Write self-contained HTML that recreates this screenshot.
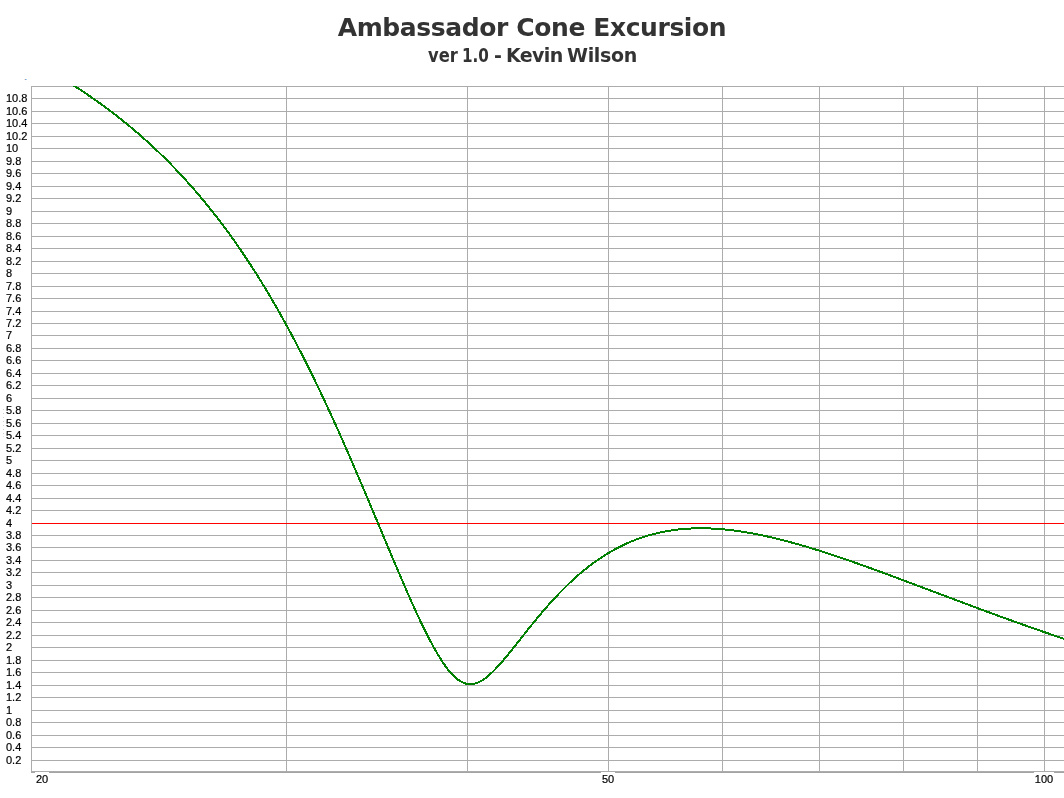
<!DOCTYPE html>
<html><head><meta charset="utf-8"><style>
html,body{margin:0;padding:0;background:#fff;}
body{width:1064px;height:798px;position:relative;overflow:hidden;}
.t1{position:absolute;left:0;width:1064px;top:13px;letter-spacing:-0.4px;text-align:center;font:bold 25px "DejaVu Sans","Liberation Sans",sans-serif;color:#333;white-space:nowrap;}
.t2{position:absolute;left:0;top:0;width:1064px;height:80px;font:bold 19px/22px "DejaVu Sans","Liberation Sans",sans-serif;color:#333;white-space:nowrap;}
.t2 span{position:absolute;top:44px;display:inline-block;}
.yl{position:absolute;left:6px;font:11px/14px "Liberation Sans",sans-serif;color:#000;white-space:nowrap;-webkit-text-stroke:0.2px #000;}
.xl{position:absolute;top:772px;height:13px;background:#fff;font:11px/14px "Liberation Sans",sans-serif;color:#000;text-align:center;-webkit-text-stroke:0.2px #000;}
</style></head><body>
<svg width="1064" height="798" viewBox="0 0 1064 798" style="position:absolute;left:0;top:0"><defs><clipPath id="pc"><rect x="31" y="86" width="1033" height="686"/></clipPath></defs><g><rect x="32" y="760" width="1032" height="1" fill="#acacac"/><rect x="32" y="747" width="1032" height="1" fill="#acacac"/><rect x="32" y="735" width="1032" height="1" fill="#acacac"/><rect x="32" y="722" width="1032" height="1" fill="#acacac"/><rect x="32" y="710" width="1032" height="1" fill="#acacac"/><rect x="32" y="697" width="1032" height="1" fill="#acacac"/><rect x="32" y="685" width="1032" height="1" fill="#acacac"/><rect x="32" y="672" width="1032" height="1" fill="#acacac"/><rect x="32" y="660" width="1032" height="1" fill="#acacac"/><rect x="32" y="647" width="1032" height="1" fill="#acacac"/><rect x="32" y="635" width="1032" height="1" fill="#acacac"/><rect x="32" y="622" width="1032" height="1" fill="#acacac"/><rect x="32" y="610" width="1032" height="1" fill="#acacac"/><rect x="32" y="597" width="1032" height="1" fill="#acacac"/><rect x="32" y="585" width="1032" height="1" fill="#acacac"/><rect x="32" y="572" width="1032" height="1" fill="#acacac"/><rect x="32" y="560" width="1032" height="1" fill="#acacac"/><rect x="32" y="547" width="1032" height="1" fill="#acacac"/><rect x="32" y="535" width="1032" height="1" fill="#acacac"/><rect x="32" y="523" width="1032" height="1" fill="#acacac"/><rect x="32" y="510" width="1032" height="1" fill="#acacac"/><rect x="32" y="498" width="1032" height="1" fill="#acacac"/><rect x="32" y="485" width="1032" height="1" fill="#acacac"/><rect x="32" y="473" width="1032" height="1" fill="#acacac"/><rect x="32" y="460" width="1032" height="1" fill="#acacac"/><rect x="32" y="448" width="1032" height="1" fill="#acacac"/><rect x="32" y="435" width="1032" height="1" fill="#acacac"/><rect x="32" y="423" width="1032" height="1" fill="#acacac"/><rect x="32" y="410" width="1032" height="1" fill="#acacac"/><rect x="32" y="398" width="1032" height="1" fill="#acacac"/><rect x="32" y="385" width="1032" height="1" fill="#acacac"/><rect x="32" y="373" width="1032" height="1" fill="#acacac"/><rect x="32" y="360" width="1032" height="1" fill="#acacac"/><rect x="32" y="348" width="1032" height="1" fill="#acacac"/><rect x="32" y="335" width="1032" height="1" fill="#acacac"/><rect x="32" y="323" width="1032" height="1" fill="#acacac"/><rect x="32" y="311" width="1032" height="1" fill="#acacac"/><rect x="32" y="298" width="1032" height="1" fill="#acacac"/><rect x="32" y="286" width="1032" height="1" fill="#acacac"/><rect x="32" y="273" width="1032" height="1" fill="#acacac"/><rect x="32" y="261" width="1032" height="1" fill="#acacac"/><rect x="32" y="248" width="1032" height="1" fill="#acacac"/><rect x="32" y="236" width="1032" height="1" fill="#acacac"/><rect x="32" y="223" width="1032" height="1" fill="#acacac"/><rect x="32" y="211" width="1032" height="1" fill="#acacac"/><rect x="32" y="198" width="1032" height="1" fill="#acacac"/><rect x="32" y="186" width="1032" height="1" fill="#acacac"/><rect x="32" y="173" width="1032" height="1" fill="#acacac"/><rect x="32" y="161" width="1032" height="1" fill="#acacac"/><rect x="32" y="148" width="1032" height="1" fill="#acacac"/><rect x="32" y="136" width="1032" height="1" fill="#acacac"/><rect x="32" y="123" width="1032" height="1" fill="#acacac"/><rect x="32" y="111" width="1032" height="1" fill="#acacac"/><rect x="32" y="98" width="1032" height="1" fill="#acacac"/><rect x="286" y="87" width="1" height="684" fill="#acacac"/><rect x="467" y="87" width="1" height="684" fill="#acacac"/><rect x="608" y="87" width="1" height="684" fill="#acacac"/><rect x="722" y="87" width="1" height="684" fill="#acacac"/><rect x="819" y="87" width="1" height="684" fill="#acacac"/><rect x="903" y="87" width="1" height="684" fill="#acacac"/><rect x="977" y="87" width="1" height="684" fill="#acacac"/><rect x="1044" y="87" width="1" height="684" fill="#acacac"/></g><rect x="31" y="86" width="1033" height="1" fill="#acacac"/><rect x="31" y="86" width="1" height="687" fill="#acacac"/><rect x="31" y="771" width="1033" height="1" fill="#acacac"/><rect x="31" y="772" width="1033" height="1" fill="#a4a4a4"/><rect x="32" y="523" width="1032" height="1" fill="#ff0000"/><polyline clip-path="url(#pc)" fill="none" stroke="#008000" stroke-width="2" shape-rendering="crispEdges" points="31.00,60.91 31.50,61.17 32.00,61.43 32.50,61.69 33.00,61.96 33.50,62.22 34.00,62.49 34.50,62.75 35.00,63.02 35.50,63.29 36.00,63.55 36.50,63.82 37.00,64.09 37.50,64.36 38.00,64.63 38.50,64.90 39.00,65.17 39.50,65.44 40.00,65.72 40.50,65.99 41.00,66.26 41.50,66.54 42.00,66.81 42.50,67.09 43.00,67.36 43.50,67.64 44.00,67.92 44.50,68.20 45.00,68.47 45.50,68.75 46.00,69.03 46.50,69.31 47.00,69.59 47.50,69.88 48.00,70.16 48.50,70.44 49.00,70.73 49.50,71.01 50.00,71.29 50.50,71.58 51.00,71.87 51.50,72.15 52.00,72.44 52.50,72.73 53.00,73.02 53.50,73.31 54.00,73.60 54.50,73.89 55.00,74.18 55.50,74.47 56.00,74.76 56.50,75.06 57.00,75.35 57.50,75.65 58.00,75.94 58.50,76.24 59.00,76.53 59.50,76.83 60.00,77.13 60.50,77.43 61.00,77.73 61.50,78.03 62.00,78.33 62.50,78.63 63.00,78.93 63.50,79.23 64.00,79.54 64.50,79.84 65.00,80.15 65.50,80.45 66.00,80.76 66.50,81.07 67.00,81.37 67.50,81.68 68.00,81.99 68.50,82.30 69.00,82.61 69.50,82.92 70.00,83.24 70.50,83.55 71.00,83.86 71.50,84.18 72.00,84.49 72.50,84.81 73.00,85.12 73.50,85.44 74.00,85.76 74.50,86.08 75.00,86.40 75.50,86.72 76.00,87.04 76.50,87.36 77.00,87.68 77.50,88.00 78.00,88.33 78.50,88.65 79.00,88.98 79.50,89.30 80.00,89.63 80.50,89.96 81.00,90.29 81.50,90.61 82.00,90.94 82.50,91.28 83.00,91.61 83.50,91.94 84.00,92.27 84.50,92.61 85.00,92.94 85.50,93.28 86.00,93.61 86.50,93.95 87.00,94.29 87.50,94.63 88.00,94.96 88.50,95.30 89.00,95.65 89.50,95.99 90.00,96.33 90.50,96.67 91.00,97.02 91.50,97.36 92.00,97.71 92.50,98.05 93.00,98.40 93.50,98.75 94.00,99.10 94.50,99.45 95.00,99.80 95.50,100.15 96.00,100.50 96.50,100.86 97.00,101.21 97.50,101.57 98.00,101.92 98.50,102.28 99.00,102.64 99.50,102.99 100.00,103.35 100.50,103.71 101.00,104.07 101.50,104.44 102.00,104.80 102.50,105.16 103.00,105.53 103.50,105.89 104.00,106.26 104.50,106.62 105.00,106.99 105.50,107.36 106.00,107.73 106.50,108.10 107.00,108.47 107.50,108.85 108.00,109.22 108.50,109.59 109.00,109.97 109.50,110.34 110.00,110.72 110.50,111.10 111.00,111.48 111.50,111.86 112.00,112.24 112.50,112.62 113.00,113.00 113.50,113.38 114.00,113.77 114.50,114.15 115.00,114.54 115.50,114.93 116.00,115.31 116.50,115.70 117.00,116.09 117.50,116.48 118.00,116.87 118.50,117.27 119.00,117.66 119.50,118.06 120.00,118.45 120.50,118.85 121.00,119.24 121.50,119.64 122.00,120.04 122.50,120.44 123.00,120.84 123.50,121.25 124.00,121.65 124.50,122.05 125.00,122.46 125.50,122.87 126.00,123.27 126.50,123.68 127.00,124.09 127.50,124.50 128.00,124.91 128.50,125.32 129.00,125.74 129.50,126.15 130.00,126.57 130.50,126.98 131.00,127.40 131.50,127.82 132.00,128.24 132.50,128.66 133.00,129.08 133.50,129.50 134.00,129.93 134.50,130.35 135.00,130.78 135.50,131.21 136.00,131.63 136.50,132.06 137.00,132.49 137.50,132.92 138.00,133.36 138.50,133.79 139.00,134.22 139.50,134.66 140.00,135.09 140.50,135.53 141.00,135.97 141.50,136.41 142.00,136.85 142.50,137.29 143.00,137.74 143.50,138.18 144.00,138.63 144.50,139.07 145.00,139.52 145.50,139.97 146.00,140.42 146.50,140.87 147.00,141.32 147.50,141.77 148.00,142.23 148.50,142.68 149.00,143.14 149.50,143.60 150.00,144.06 150.50,144.52 151.00,144.98 151.50,145.44 152.00,145.90 152.50,146.37 153.00,146.83 153.50,147.30 154.00,147.77 154.50,148.24 155.00,148.71 155.50,149.18 156.00,149.65 156.50,150.13 157.00,150.60 157.50,151.08 158.00,151.56 158.50,152.04 159.00,152.52 159.50,153.00 160.00,153.48 160.50,153.96 161.00,154.45 161.50,154.93 162.00,155.42 162.50,155.91 163.00,156.40 163.50,156.89 164.00,157.38 164.50,157.88 165.00,158.37 165.50,158.87 166.00,159.37 166.50,159.86 167.00,160.36 167.50,160.87 168.00,161.37 168.50,161.87 169.00,162.38 169.50,162.88 170.00,163.39 170.50,163.90 171.00,164.41 171.50,164.92 172.00,165.44 172.50,165.95 173.00,166.47 173.50,166.98 174.00,167.50 174.50,168.02 175.00,168.54 175.50,169.06 176.00,169.59 176.50,170.11 177.00,170.64 177.50,171.16 178.00,171.69 178.50,172.22 179.00,172.76 179.50,173.29 180.00,173.82 180.50,174.36 181.00,174.90 181.50,175.43 182.00,175.97 182.50,176.51 183.00,177.06 183.50,177.60 184.00,178.15 184.50,178.69 185.00,179.24 185.50,179.79 186.00,180.34 186.50,180.90 187.00,181.45 187.50,182.00 188.00,182.56 188.50,183.12 189.00,183.68 189.50,184.24 190.00,184.80 190.50,185.37 191.00,185.93 191.50,186.50 192.00,187.07 192.50,187.64 193.00,188.21 193.50,188.78 194.00,189.36 194.50,189.93 195.00,190.51 195.50,191.09 196.00,191.67 196.50,192.25 197.00,192.83 197.50,193.42 198.00,194.00 198.50,194.59 199.00,195.18 199.50,195.77 200.00,196.36 200.50,196.96 201.00,197.55 201.50,198.15 202.00,198.75 202.50,199.35 203.00,199.95 203.50,200.55 204.00,201.16 204.50,201.76 205.00,202.37 205.50,202.98 206.00,203.59 206.50,204.20 207.00,204.82 207.50,205.43 208.00,206.05 208.50,206.67 209.00,207.29 209.50,207.91 210.00,208.54 210.50,209.16 211.00,209.79 211.50,210.42 212.00,211.05 212.50,211.68 213.00,212.31 213.50,212.95 214.00,213.59 214.50,214.22 215.00,214.86 215.50,215.51 216.00,216.15 216.50,216.79 217.00,217.44 217.50,218.09 218.00,218.74 218.50,219.39 219.00,220.05 219.50,220.70 220.00,221.36 220.50,222.02 221.00,222.68 221.50,223.34 222.00,224.00 222.50,224.67 223.00,225.33 223.50,226.00 224.00,226.67 224.50,227.35 225.00,228.02 225.50,228.70 226.00,229.37 226.50,230.05 227.00,230.73 227.50,231.42 228.00,232.10 228.50,232.79 229.00,233.47 229.50,234.16 230.00,234.86 230.50,235.55 231.00,236.24 231.50,236.94 232.00,237.64 232.50,238.34 233.00,239.04 233.50,239.75 234.00,240.45 234.50,241.16 235.00,241.87 235.50,242.58 236.00,243.29 236.50,244.01 237.00,244.73 237.50,245.44 238.00,246.16 238.50,246.89 239.00,247.61 239.50,248.34 240.00,249.06 240.50,249.79 241.00,250.53 241.50,251.26 242.00,251.99 242.50,252.73 243.00,253.47 243.50,254.21 244.00,254.95 244.50,255.70 245.00,256.45 245.50,257.19 246.00,257.94 246.50,258.70 247.00,259.45 247.50,260.21 248.00,260.96 248.50,261.72 249.00,262.49 249.50,263.25 250.00,264.02 250.50,264.78 251.00,265.55 251.50,266.32 252.00,267.10 252.50,267.87 253.00,268.65 253.50,269.43 254.00,270.21 254.50,270.99 255.00,271.78 255.50,272.56 256.00,273.35 256.50,274.14 257.00,274.94 257.50,275.73 258.00,276.53 258.50,277.33 259.00,278.13 259.50,278.93 260.00,279.74 260.50,280.54 261.00,281.35 261.50,282.16 262.00,282.97 262.50,283.79 263.00,284.61 263.50,285.42 264.00,286.25 264.50,287.07 265.00,287.89 265.50,288.72 266.00,289.55 266.50,290.38 267.00,291.21 267.50,292.05 268.00,292.88 268.50,293.72 269.00,294.56 269.50,295.41 270.00,296.25 270.50,297.10 271.00,297.95 271.50,298.80 272.00,299.65 272.50,300.51 273.00,301.36 273.50,302.22 274.00,303.08 274.50,303.95 275.00,304.81 275.50,305.68 276.00,306.55 276.50,307.42 277.00,308.29 277.50,309.17 278.00,310.05 278.50,310.93 279.00,311.81 279.50,312.69 280.00,313.58 280.50,314.47 281.00,315.36 281.50,316.25 282.00,317.14 282.50,318.04 283.00,318.94 283.50,319.84 284.00,320.74 284.50,321.65 285.00,322.55 285.50,323.46 286.00,324.37 286.50,325.28 287.00,326.20 287.50,327.12 288.00,328.04 288.50,328.96 289.00,329.88 289.50,330.81 290.00,331.73 290.50,332.66 291.00,333.59 291.50,334.53 292.00,335.46 292.50,336.40 293.00,337.34 293.50,338.28 294.00,339.23 294.50,340.17 295.00,341.12 295.50,342.07 296.00,343.02 296.50,343.98 297.00,344.94 297.50,345.89 298.00,346.85 298.50,347.82 299.00,348.78 299.50,349.75 300.00,350.72 300.50,351.69 301.00,352.66 301.50,353.64 302.00,354.61 302.50,355.59 303.00,356.57 303.50,357.56 304.00,358.54 304.50,359.53 305.00,360.52 305.50,361.51 306.00,362.50 306.50,363.50 307.00,364.50 307.50,365.50 308.00,366.50 308.50,367.50 309.00,368.51 309.50,369.52 310.00,370.53 310.50,371.54 311.00,372.55 311.50,373.57 312.00,374.58 312.50,375.60 313.00,376.63 313.50,377.65 314.00,378.68 314.50,379.70 315.00,380.73 315.50,381.76 316.00,382.80 316.50,383.83 317.00,384.87 317.50,385.91 318.00,386.95 318.50,387.99 319.00,389.04 319.50,390.09 320.00,391.14 320.50,392.19 321.00,393.24 321.50,394.29 322.00,395.35 322.50,396.41 323.00,397.47 323.50,398.53 324.00,399.60 324.50,400.66 325.00,401.73 325.50,402.80 326.00,403.87 326.50,404.95 327.00,406.02 327.50,407.10 328.00,408.18 328.50,409.26 329.00,410.34 329.50,411.42 330.00,412.51 330.50,413.60 331.00,414.69 331.50,415.78 332.00,416.87 332.50,417.97 333.00,419.06 333.50,420.16 334.00,421.26 334.50,422.36 335.00,423.47 335.50,424.57 336.00,425.68 336.50,426.79 337.00,427.90 337.50,429.01 338.00,430.12 338.50,431.24 339.00,432.36 339.50,433.47 340.00,434.59 340.50,435.72 341.00,436.84 341.50,437.96 342.00,439.09 342.50,440.22 343.00,441.35 343.50,442.48 344.00,443.61 344.50,444.74 345.00,445.88 345.50,447.01 346.00,448.15 346.50,449.29 347.00,450.43 347.50,451.58 348.00,452.72 348.50,453.86 349.00,455.01 349.50,456.16 350.00,457.31 350.50,458.46 351.00,459.61 351.50,460.76 352.00,461.92 352.50,463.07 353.00,464.23 353.50,465.39 354.00,466.55 354.50,467.71 355.00,468.87 355.50,470.03 356.00,471.19 356.50,472.36 357.00,473.53 357.50,474.69 358.00,475.86 358.50,477.03 359.00,478.20 359.50,479.37 360.00,480.54 360.50,481.72 361.00,482.89 361.50,484.07 362.00,485.24 362.50,486.42 363.00,487.60 363.50,488.78 364.00,489.96 364.50,491.14 365.00,492.32 365.50,493.50 366.00,494.68 366.50,495.87 367.00,497.05 367.50,498.24 368.00,499.42 368.50,500.61 369.00,501.79 369.50,502.98 370.00,504.17 370.50,505.36 371.00,506.55 371.50,507.74 372.00,508.93 372.50,510.12 373.00,511.31 373.50,512.50 374.00,513.69 374.50,514.88 375.00,516.08 375.50,517.27 376.00,518.46 376.50,519.66 377.00,520.85 377.50,522.04 378.00,523.24 378.50,524.43 379.00,525.62 379.50,526.82 380.00,528.01 380.50,529.21 381.00,530.40 381.50,531.59 382.00,532.79 382.50,533.98 383.00,535.18 383.50,536.37 384.00,537.56 384.50,538.76 385.00,539.95 385.50,541.14 386.00,542.33 386.50,543.52 387.00,544.72 387.50,545.91 388.00,547.10 388.50,548.29 389.00,549.48 389.50,550.67 390.00,551.85 390.50,553.04 391.00,554.23 391.50,555.41 392.00,556.60 392.50,557.78 393.00,558.97 393.50,560.15 394.00,561.33 394.50,562.51 395.00,563.69 395.50,564.87 396.00,566.05 396.50,567.22 397.00,568.40 397.50,569.57 398.00,570.74 398.50,571.92 399.00,573.09 399.50,574.25 400.00,575.42 400.50,576.59 401.00,577.75 401.50,578.91 402.00,580.07 402.50,581.23 403.00,582.39 403.50,583.54 404.00,584.70 404.50,585.85 405.00,587.00 405.50,588.14 406.00,589.29 406.50,590.43 407.00,591.57 407.50,592.71 408.00,593.85 408.50,594.98 409.00,596.11 409.50,597.24 410.00,598.36 410.50,599.49 411.00,600.61 411.50,601.73 412.00,602.84 412.50,603.95 413.00,605.06 413.50,606.17 414.00,607.27 414.50,608.37 415.00,609.47 415.50,610.56 416.00,611.65 416.50,612.73 417.00,613.82 417.50,614.89 418.00,615.97 418.50,617.04 419.00,618.11 419.50,619.17 420.00,620.23 420.50,621.28 421.00,622.33 421.50,623.38 422.00,624.42 422.50,625.46 423.00,626.49 423.50,627.52 424.00,628.54 424.50,629.56 425.00,630.57 425.50,631.58 426.00,632.58 426.50,633.57 427.00,634.57 427.50,635.55 428.00,636.53 428.50,637.50 429.00,638.47 429.50,639.43 430.00,640.39 430.50,641.34 431.00,642.28 431.50,643.22 432.00,644.15 432.50,645.07 433.00,645.99 433.50,646.90 434.00,647.80 434.50,648.69 435.00,649.58 435.50,650.46 436.00,651.33 436.50,652.19 437.00,653.05 437.50,653.90 438.00,654.74 438.50,655.57 439.00,656.39 439.50,657.20 440.00,658.01 440.50,658.80 441.00,659.59 441.50,660.36 442.00,661.13 442.50,661.89 443.00,662.64 443.50,663.37 444.00,664.10 444.50,664.82 445.00,665.52 445.50,666.22 446.00,666.90 446.50,667.57 447.00,668.24 447.50,668.89 448.00,669.52 448.50,670.15 449.00,670.77 449.50,671.37 450.00,671.96 450.50,672.54 451.00,673.11 451.50,673.66 452.00,674.20 452.50,674.73 453.00,675.24 453.50,675.74 454.00,676.23 454.50,676.71 455.00,677.17 455.50,677.61 456.00,678.05 456.50,678.46 457.00,678.87 457.50,679.26 458.00,679.63 458.50,680.00 459.00,680.34 459.50,680.67 460.00,680.99 460.50,681.29 461.00,681.58 461.50,681.85 462.00,682.11 462.50,682.35 463.00,682.58 463.50,682.79 464.00,682.99 464.50,683.17 465.00,683.33 465.50,683.48 466.00,683.62 466.50,683.74 467.00,683.85 467.50,683.94 468.00,684.01 468.50,684.07 469.00,684.12 469.50,684.15 470.00,684.16 470.50,684.16 471.00,684.15 471.50,684.12 472.00,684.08 472.50,684.02 473.00,683.95 473.50,683.86 474.00,683.76 474.50,683.65 475.00,683.52 475.50,683.38 476.00,683.23 476.50,683.06 477.00,682.89 477.50,682.69 478.00,682.49 478.50,682.27 479.00,682.04 479.50,681.80 480.00,681.55 480.50,681.28 481.00,681.01 481.50,680.72 482.00,680.42 482.50,680.11 483.00,679.79 483.50,679.46 484.00,679.12 484.50,678.77 485.00,678.41 485.50,678.04 486.00,677.66 486.50,677.27 487.00,676.87 487.50,676.46 488.00,676.05 488.50,675.63 489.00,675.20 489.50,674.76 490.00,674.31 490.50,673.85 491.00,673.39 491.50,672.92 492.00,672.45 492.50,671.97 493.00,671.48 493.50,670.98 494.00,670.48 494.50,669.97 495.00,669.46 495.50,668.94 496.00,668.42 496.50,667.89 497.00,667.35 497.50,666.81 498.00,666.27 498.50,665.72 499.00,665.16 499.50,664.60 500.00,664.04 500.50,663.48 501.00,662.91 501.50,662.33 502.00,661.75 502.50,661.17 503.00,660.59 503.50,660.00 504.00,659.41 504.50,658.82 505.00,658.22 505.50,657.62 506.00,657.02 506.50,656.42 507.00,655.81 507.50,655.20 508.00,654.59 508.50,653.98 509.00,653.37 509.50,652.75 510.00,652.13 510.50,651.51 511.00,650.89 511.50,650.27 512.00,649.65 512.50,649.02 513.00,648.40 513.50,647.77 514.00,647.14 514.50,646.52 515.00,645.89 515.50,645.26 516.00,644.63 516.50,644.00 517.00,643.36 517.50,642.73 518.00,642.10 518.50,641.47 519.00,640.84 519.50,640.20 520.00,639.57 520.50,638.94 521.00,638.30 521.50,637.67 522.00,637.04 522.50,636.41 523.00,635.78 523.50,635.15 524.00,634.51 524.50,633.88 525.00,633.25 525.50,632.62 526.00,632.00 526.50,631.37 527.00,630.74 527.50,630.11 528.00,629.49 528.50,628.86 529.00,628.24 529.50,627.62 530.00,626.99 530.50,626.37 531.00,625.75 531.50,625.13 532.00,624.52 532.50,623.90 533.00,623.28 533.50,622.67 534.00,622.06 534.50,621.44 535.00,620.83 535.50,620.22 536.00,619.62 536.50,619.01 537.00,618.41 537.50,617.80 538.00,617.20 538.50,616.60 539.00,616.00 539.50,615.40 540.00,614.81 540.50,614.21 541.00,613.62 541.50,613.03 542.00,612.44 542.50,611.85 543.00,611.27 543.50,610.69 544.00,610.10 544.50,609.52 545.00,608.94 545.50,608.37 546.00,607.79 546.50,607.22 547.00,606.65 547.50,606.08 548.00,605.51 548.50,604.95 549.00,604.38 549.50,603.82 550.00,603.26 550.50,602.70 551.00,602.15 551.50,601.60 552.00,601.04 552.50,600.49 553.00,599.95 553.50,599.40 554.00,598.86 554.50,598.32 555.00,597.78 555.50,597.24 556.00,596.71 556.50,596.17 557.00,595.64 557.50,595.11 558.00,594.59 558.50,594.06 559.00,593.54 559.50,593.02 560.00,592.50 560.50,591.99 561.00,591.47 561.50,590.96 562.00,590.45 562.50,589.95 563.00,589.44 563.50,588.94 564.00,588.44 564.50,587.94 565.00,587.44 565.50,586.95 566.00,586.46 566.50,585.97 567.00,585.48 567.50,585.00 568.00,584.52 568.50,584.04 569.00,583.56 569.50,583.08 570.00,582.61 570.50,582.14 571.00,581.67 571.50,581.21 572.00,580.74 572.50,580.28 573.00,579.82 573.50,579.36 574.00,578.91 574.50,578.46 575.00,578.01 575.50,577.56 576.00,577.11 576.50,576.67 577.00,576.23 577.50,575.79 578.00,575.35 578.50,574.92 579.00,574.48 579.50,574.06 580.00,573.63 580.50,573.20 581.00,572.78 581.50,572.36 582.00,571.94 582.50,571.53 583.00,571.11 583.50,570.70 584.00,570.29 584.50,569.88 585.00,569.48 585.50,569.08 586.00,568.68 586.50,568.28 587.00,567.88 587.50,567.49 588.00,567.10 588.50,566.71 589.00,566.33 589.50,565.94 590.00,565.56 590.50,565.18 591.00,564.80 591.50,564.43 592.00,564.06 592.50,563.69 593.00,563.32 593.50,562.95 594.00,562.59 594.50,562.23 595.00,561.87 595.50,561.51 596.00,561.15 596.50,560.80 597.00,560.45 597.50,560.10 598.00,559.76 598.50,559.41 599.00,559.07 599.50,558.73 600.00,558.40 600.50,558.06 601.00,557.73 601.50,557.40 602.00,557.07 602.50,556.74 603.00,556.42 603.50,556.10 604.00,555.78 604.50,555.46 605.00,555.15 605.50,554.83 606.00,554.52 606.50,554.21 607.00,553.91 607.50,553.60 608.00,553.30 608.50,553.00 609.00,552.70 609.50,552.41 610.00,552.11 610.50,551.82 611.00,551.53 611.50,551.24 612.00,550.96 612.50,550.67 613.00,550.39 613.50,550.11 614.00,549.84 614.50,549.56 615.00,549.29 615.50,549.02 616.00,548.75 616.50,548.48 617.00,548.22 617.50,547.95 618.00,547.69 618.50,547.44 619.00,547.18 619.50,546.92 620.00,546.67 620.50,546.42 621.00,546.17 621.50,545.93 622.00,545.68 622.50,545.44 623.00,545.20 623.50,544.96 624.00,544.72 624.50,544.49 625.00,544.26 625.50,544.03 626.00,543.80 626.50,543.57 627.00,543.34 627.50,543.12 628.00,542.90 628.50,542.68 629.00,542.46 629.50,542.25 630.00,542.04 630.50,541.82 631.00,541.61 631.50,541.41 632.00,541.20 632.50,541.00 633.00,540.79 633.50,540.59 634.00,540.40 634.50,540.20 635.00,540.00 635.50,539.81 636.00,539.62 636.50,539.43 637.00,539.24 637.50,539.06 638.00,538.88 638.50,538.69 639.00,538.51 639.50,538.34 640.00,538.16 640.50,537.98 641.00,537.81 641.50,537.64 642.00,537.47 642.50,537.30 643.00,537.14 643.50,536.97 644.00,536.81 644.50,536.65 645.00,536.49 645.50,536.33 646.00,536.18 646.50,536.02 647.00,535.87 647.50,535.72 648.00,535.57 648.50,535.43 649.00,535.28 649.50,535.14 650.00,535.00 650.50,534.86 651.00,534.72 651.50,534.58 652.00,534.44 652.50,534.31 653.00,534.18 653.50,534.05 654.00,533.92 654.50,533.79 655.00,533.67 655.50,533.54 656.00,533.42 656.50,533.30 657.00,533.18 657.50,533.06 658.00,532.95 658.50,532.83 659.00,532.72 659.50,532.61 660.00,532.50 660.50,532.39 661.00,532.29 661.50,532.18 662.00,532.08 662.50,531.98 663.00,531.87 663.50,531.78 664.00,531.68 664.50,531.58 665.00,531.49 665.50,531.40 666.00,531.30 666.50,531.21 667.00,531.13 667.50,531.04 668.00,530.95 668.50,530.87 669.00,530.79 669.50,530.71 670.00,530.63 670.50,530.55 671.00,530.47 671.50,530.40 672.00,530.32 672.50,530.25 673.00,530.18 673.50,530.11 674.00,530.04 674.50,529.97 675.00,529.91 675.50,529.84 676.00,529.78 676.50,529.72 677.00,529.66 677.50,529.60 678.00,529.54 678.50,529.49 679.00,529.43 679.50,529.38 680.00,529.33 680.50,529.28 681.00,529.23 681.50,529.18 682.00,529.13 682.50,529.09 683.00,529.05 683.50,529.00 684.00,528.96 684.50,528.92 685.00,528.88 685.50,528.85 686.00,528.81 686.50,528.77 687.00,528.74 687.50,528.71 688.00,528.68 688.50,528.65 689.00,528.62 689.50,528.59 690.00,528.56 690.50,528.54 691.00,528.52 691.50,528.49 692.00,528.47 692.50,528.45 693.00,528.43 693.50,528.42 694.00,528.40 694.50,528.38 695.00,528.37 695.50,528.36 696.00,528.34 696.50,528.33 697.00,528.32 697.50,528.32 698.00,528.31 698.50,528.30 699.00,528.30 699.50,528.29 700.00,528.29 700.50,528.29 701.00,528.29 701.50,528.29 702.00,528.29 702.50,528.30 703.00,528.30 703.50,528.30 704.00,528.31 704.50,528.32 705.00,528.33 705.50,528.34 706.00,528.35 706.50,528.36 707.00,528.37 707.50,528.39 708.00,528.40 708.50,528.42 709.00,528.43 709.50,528.45 710.00,528.47 710.50,528.49 711.00,528.51 711.50,528.53 712.00,528.56 712.50,528.58 713.00,528.61 713.50,528.63 714.00,528.66 714.50,528.69 715.00,528.72 715.50,528.75 716.00,528.78 716.50,528.81 717.00,528.84 717.50,528.88 718.00,528.91 718.50,528.95 719.00,528.99 719.50,529.02 720.00,529.06 720.50,529.10 721.00,529.14 721.50,529.18 722.00,529.23 722.50,529.27 723.00,529.32 723.50,529.36 724.00,529.41 724.50,529.45 725.00,529.50 725.50,529.55 726.00,529.60 726.50,529.65 727.00,529.70 727.50,529.76 728.00,529.81 728.50,529.86 729.00,529.92 729.50,529.98 730.00,530.03 730.50,530.09 731.00,530.15 731.50,530.21 732.00,530.27 732.50,530.33 733.00,530.39 733.50,530.46 734.00,530.52 734.50,530.58 735.00,530.65 735.50,530.72 736.00,530.78 736.50,530.85 737.00,530.92 737.50,530.99 738.00,531.06 738.50,531.13 739.00,531.20 739.50,531.27 740.00,531.35 740.50,531.42 741.00,531.50 741.50,531.57 742.00,531.65 742.50,531.73 743.00,531.80 743.50,531.88 744.00,531.96 744.50,532.04 745.00,532.12 745.50,532.21 746.00,532.29 746.50,532.37 747.00,532.46 747.50,532.54 748.00,532.63 748.50,532.71 749.00,532.80 749.50,532.89 750.00,532.98 750.50,533.07 751.00,533.16 751.50,533.25 752.00,533.34 752.50,533.43 753.00,533.52 753.50,533.61 754.00,533.71 754.50,533.80 755.00,533.90 755.50,533.99 756.00,534.09 756.50,534.19 757.00,534.29 757.50,534.39 758.00,534.48 758.50,534.58 759.00,534.69 759.50,534.79 760.00,534.89 760.50,534.99 761.00,535.09 761.50,535.20 762.00,535.30 762.50,535.41 763.00,535.51 763.50,535.62 764.00,535.73 764.50,535.83 765.00,535.94 765.50,536.05 766.00,536.16 766.50,536.27 767.00,536.38 767.50,536.49 768.00,536.60 768.50,536.72 769.00,536.83 769.50,536.94 770.00,537.06 770.50,537.17 771.00,537.29 771.50,537.40 772.00,537.52 772.50,537.64 773.00,537.75 773.50,537.87 774.00,537.99 774.50,538.11 775.00,538.23 775.50,538.35 776.00,538.47 776.50,538.59 777.00,538.71 777.50,538.84 778.00,538.96 778.50,539.08 779.00,539.21 779.50,539.33 780.00,539.46 780.50,539.58 781.00,539.71 781.50,539.84 782.00,539.96 782.50,540.09 783.00,540.22 783.50,540.35 784.00,540.48 784.50,540.61 785.00,540.74 785.50,540.87 786.00,541.00 786.50,541.13 787.00,541.26 787.50,541.39 788.00,541.53 788.50,541.66 789.00,541.79 789.50,541.93 790.00,542.06 790.50,542.20 791.00,542.34 791.50,542.47 792.00,542.61 792.50,542.75 793.00,542.88 793.50,543.02 794.00,543.16 794.50,543.30 795.00,543.44 795.50,543.58 796.00,543.72 796.50,543.86 797.00,544.00 797.50,544.14 798.00,544.28 798.50,544.43 799.00,544.57 799.50,544.71 800.00,544.86 800.50,545.00 801.00,545.14 801.50,545.29 802.00,545.43 802.50,545.58 803.00,545.73 803.50,545.87 804.00,546.02 804.50,546.17 805.00,546.31 805.50,546.46 806.00,546.61 806.50,546.76 807.00,546.91 807.50,547.06 808.00,547.21 808.50,547.36 809.00,547.51 809.50,547.66 810.00,547.81 810.50,547.96 811.00,548.11 811.50,548.27 812.00,548.42 812.50,548.57 813.00,548.73 813.50,548.88 814.00,549.03 814.50,549.19 815.00,549.34 815.50,549.50 816.00,549.66 816.50,549.81 817.00,549.97 817.50,550.12 818.00,550.28 818.50,550.44 819.00,550.60 819.50,550.75 820.00,550.91 820.50,551.07 821.00,551.23 821.50,551.39 822.00,551.55 822.50,551.71 823.00,551.87 823.50,552.03 824.00,552.19 824.50,552.35 825.00,552.51 825.50,552.67 826.00,552.83 826.50,553.00 827.00,553.16 827.50,553.32 828.00,553.48 828.50,553.65 829.00,553.81 829.50,553.98 830.00,554.14 830.50,554.30 831.00,554.47 831.50,554.63 832.00,554.80 832.50,554.96 833.00,555.13 833.50,555.30 834.00,555.46 834.50,555.63 835.00,555.80 835.50,555.96 836.00,556.13 836.50,556.30 837.00,556.47 837.50,556.63 838.00,556.80 838.50,556.97 839.00,557.14 839.50,557.31 840.00,557.48 840.50,557.65 841.00,557.82 841.50,557.99 842.00,558.16 842.50,558.33 843.00,558.50 843.50,558.67 844.00,558.84 844.50,559.01 845.00,559.18 845.50,559.35 846.00,559.53 846.50,559.70 847.00,559.87 847.50,560.04 848.00,560.22 848.50,560.39 849.00,560.56 849.50,560.74 850.00,560.91 850.50,561.08 851.00,561.26 851.50,561.43 852.00,561.61 852.50,561.78 853.00,561.96 853.50,562.13 854.00,562.31 854.50,562.48 855.00,562.66 855.50,562.83 856.00,563.01 856.50,563.19 857.00,563.36 857.50,563.54 858.00,563.72 858.50,563.89 859.00,564.07 859.50,564.25 860.00,564.43 860.50,564.60 861.00,564.78 861.50,564.96 862.00,565.14 862.50,565.32 863.00,565.49 863.50,565.67 864.00,565.85 864.50,566.03 865.00,566.21 865.50,566.39 866.00,566.57 866.50,566.75 867.00,566.93 867.50,567.11 868.00,567.29 868.50,567.47 869.00,567.65 869.50,567.83 870.00,568.01 870.50,568.19 871.00,568.37 871.50,568.55 872.00,568.73 872.50,568.91 873.00,569.09 873.50,569.28 874.00,569.46 874.50,569.64 875.00,569.82 875.50,570.00 876.00,570.19 876.50,570.37 877.00,570.55 877.50,570.73 878.00,570.92 878.50,571.10 879.00,571.28 879.50,571.46 880.00,571.65 880.50,571.83 881.00,572.01 881.50,572.20 882.00,572.38 882.50,572.56 883.00,572.75 883.50,572.93 884.00,573.12 884.50,573.30 885.00,573.48 885.50,573.67 886.00,573.85 886.50,574.04 887.00,574.22 887.50,574.41 888.00,574.59 888.50,574.78 889.00,574.96 889.50,575.15 890.00,575.33 890.50,575.52 891.00,575.70 891.50,575.89 892.00,576.07 892.50,576.26 893.00,576.44 893.50,576.63 894.00,576.81 894.50,577.00 895.00,577.19 895.50,577.37 896.00,577.56 896.50,577.74 897.00,577.93 897.50,578.12 898.00,578.30 898.50,578.49 899.00,578.68 899.50,578.86 900.00,579.05 900.50,579.24 901.00,579.42 901.50,579.61 902.00,579.80 902.50,579.98 903.00,580.17 903.50,580.36 904.00,580.54 904.50,580.73 905.00,580.92 905.50,581.11 906.00,581.29 906.50,581.48 907.00,581.67 907.50,581.85 908.00,582.04 908.50,582.23 909.00,582.42 909.50,582.60 910.00,582.79 910.50,582.98 911.00,583.17 911.50,583.36 912.00,583.54 912.50,583.73 913.00,583.92 913.50,584.11 914.00,584.29 914.50,584.48 915.00,584.67 915.50,584.86 916.00,585.05 916.50,585.23 917.00,585.42 917.50,585.61 918.00,585.80 918.50,585.99 919.00,586.18 919.50,586.36 920.00,586.55 920.50,586.74 921.00,586.93 921.50,587.12 922.00,587.31 922.50,587.49 923.00,587.68 923.50,587.87 924.00,588.06 924.50,588.25 925.00,588.44 925.50,588.62 926.00,588.81 926.50,589.00 927.00,589.19 927.50,589.38 928.00,589.57 928.50,589.75 929.00,589.94 929.50,590.13 930.00,590.32 930.50,590.51 931.00,590.70 931.50,590.89 932.00,591.07 932.50,591.26 933.00,591.45 933.50,591.64 934.00,591.83 934.50,592.02 935.00,592.21 935.50,592.39 936.00,592.58 936.50,592.77 937.00,592.96 937.50,593.15 938.00,593.34 938.50,593.52 939.00,593.71 939.50,593.90 940.00,594.09 940.50,594.28 941.00,594.47 941.50,594.65 942.00,594.84 942.50,595.03 943.00,595.22 943.50,595.41 944.00,595.60 944.50,595.78 945.00,595.97 945.50,596.16 946.00,596.35 946.50,596.54 947.00,596.72 947.50,596.91 948.00,597.10 948.50,597.29 949.00,597.48 949.50,597.66 950.00,597.85 950.50,598.04 951.00,598.23 951.50,598.42 952.00,598.60 952.50,598.79 953.00,598.98 953.50,599.17 954.00,599.35 954.50,599.54 955.00,599.73 955.50,599.92 956.00,600.11 956.50,600.29 957.00,600.48 957.50,600.67 958.00,600.85 958.50,601.04 959.00,601.23 959.50,601.42 960.00,601.60 960.50,601.79 961.00,601.98 961.50,602.17 962.00,602.35 962.50,602.54 963.00,602.73 963.50,602.91 964.00,603.10 964.50,603.29 965.00,603.47 965.50,603.66 966.00,603.85 966.50,604.03 967.00,604.22 967.50,604.41 968.00,604.59 968.50,604.78 969.00,604.97 969.50,605.15 970.00,605.34 970.50,605.52 971.00,605.71 971.50,605.90 972.00,606.08 972.50,606.27 973.00,606.45 973.50,606.64 974.00,606.83 974.50,607.01 975.00,607.20 975.50,607.38 976.00,607.57 976.50,607.75 977.00,607.94 977.50,608.12 978.00,608.31 978.50,608.49 979.00,608.68 979.50,608.86 980.00,609.05 980.50,609.23 981.00,609.42 981.50,609.60 982.00,609.79 982.50,609.97 983.00,610.16 983.50,610.34 984.00,610.53 984.50,610.71 985.00,610.89 985.50,611.08 986.00,611.26 986.50,611.45 987.00,611.63 987.50,611.81 988.00,612.00 988.50,612.18 989.00,612.37 989.50,612.55 990.00,612.73 990.50,612.92 991.00,613.10 991.50,613.28 992.00,613.47 992.50,613.65 993.00,613.83 993.50,614.02 994.00,614.20 994.50,614.38 995.00,614.56 995.50,614.75 996.00,614.93 996.50,615.11 997.00,615.29 997.50,615.48 998.00,615.66 998.50,615.84 999.00,616.02 999.50,616.20 1000.00,616.39 1000.50,616.57 1001.00,616.75 1001.50,616.93 1002.00,617.11 1002.50,617.29 1003.00,617.47 1003.50,617.66 1004.00,617.84 1004.50,618.02 1005.00,618.20 1005.50,618.38 1006.00,618.56 1006.50,618.74 1007.00,618.92 1007.50,619.10 1008.00,619.28 1008.50,619.46 1009.00,619.64 1009.50,619.82 1010.00,620.00 1010.50,620.18 1011.00,620.36 1011.50,620.54 1012.00,620.72 1012.50,620.90 1013.00,621.08 1013.50,621.26 1014.00,621.44 1014.50,621.62 1015.00,621.80 1015.50,621.98 1016.00,622.16 1016.50,622.33 1017.00,622.51 1017.50,622.69 1018.00,622.87 1018.50,623.05 1019.00,623.23 1019.50,623.40 1020.00,623.58 1020.50,623.76 1021.00,623.94 1021.50,624.11 1022.00,624.29 1022.50,624.47 1023.00,624.65 1023.50,624.82 1024.00,625.00 1024.50,625.18 1025.00,625.36 1025.50,625.53 1026.00,625.71 1026.50,625.89 1027.00,626.06 1027.50,626.24 1028.00,626.41 1028.50,626.59 1029.00,626.77 1029.50,626.94 1030.00,627.12 1030.50,627.29 1031.00,627.47 1031.50,627.65 1032.00,627.82 1032.50,628.00 1033.00,628.17 1033.50,628.35 1034.00,628.52 1034.50,628.70 1035.00,628.87 1035.50,629.05 1036.00,629.22 1036.50,629.39 1037.00,629.57 1037.50,629.74 1038.00,629.92 1038.50,630.09 1039.00,630.26 1039.50,630.44 1040.00,630.61 1040.50,630.78 1041.00,630.96 1041.50,631.13 1042.00,631.30 1042.50,631.48 1043.00,631.65 1043.50,631.82 1044.00,632.00 1044.50,632.17 1045.00,632.34 1045.50,632.51 1046.00,632.68 1046.50,632.86 1047.00,633.03 1047.50,633.20 1048.00,633.37 1048.50,633.54 1049.00,633.71 1049.50,633.89 1050.00,634.06 1050.50,634.23 1051.00,634.40 1051.50,634.57 1052.00,634.74 1052.50,634.91 1053.00,635.08 1053.50,635.25 1054.00,635.42 1054.50,635.59 1055.00,635.76 1055.50,635.93 1056.00,636.10 1056.50,636.27 1057.00,636.44 1057.50,636.61 1058.00,636.78 1058.50,636.95 1059.00,637.12 1059.50,637.28 1060.00,637.45 1060.50,637.62 1061.00,637.79 1061.50,637.96 1062.00,638.13 1062.50,638.29 1063.00,638.46 1063.50,638.63 1064.00,638.80 1064.50,638.97"/><rect x="24" y="79" width="1" height="1" fill="#ffe2d2"/><rect x="25" y="79" width="1" height="1" fill="#7fa6d6"/><rect x="26" y="79" width="1" height="1" fill="#a9d3f3"/><rect x="3" y="409" width="1" height="1" fill="#cfcfcf"/><rect x="3" y="413" width="1" height="1" fill="#cfcfcf"/><rect x="3" y="417" width="1" height="1" fill="#cfcfcf"/><rect x="3" y="421" width="1" height="1" fill="#cfcfcf"/><rect x="3" y="425" width="1" height="1" fill="#cfcfcf"/><rect x="3" y="429" width="1" height="1" fill="#cfcfcf"/><rect x="3" y="433" width="1" height="1" fill="#cfcfcf"/><rect x="3" y="436" width="1" height="1" fill="#e2e2e2"/></svg>
<div class="t1">Ambassador Cone Excursion</div>
<div class="t2"><span style="left:428px;transform:scaleX(0.86);transform-origin:0 0">ver</span> <span style="left:462px;transform:scaleX(0.8);transform-origin:0 0">1.0</span> <span style="left:494px">-</span> <span style="left:506px;letter-spacing:-0.6px">Kevin</span> <span style="left:567px;letter-spacing:-0.3px">Wilson</span></div>
<div class="yl" style="top:753px">0.2</div><div class="yl" style="top:740px">0.4</div><div class="yl" style="top:728px">0.6</div><div class="yl" style="top:715px">0.8</div><div class="yl" style="top:703px">1</div><div class="yl" style="top:690px">1.2</div><div class="yl" style="top:678px">1.4</div><div class="yl" style="top:665px">1.6</div><div class="yl" style="top:653px">1.8</div><div class="yl" style="top:640px">2</div><div class="yl" style="top:628px">2.2</div><div class="yl" style="top:615px">2.4</div><div class="yl" style="top:603px">2.6</div><div class="yl" style="top:590px">2.8</div><div class="yl" style="top:578px">3</div><div class="yl" style="top:565px">3.2</div><div class="yl" style="top:553px">3.4</div><div class="yl" style="top:540px">3.6</div><div class="yl" style="top:528px">3.8</div><div class="yl" style="top:516px">4</div><div class="yl" style="top:503px">4.2</div><div class="yl" style="top:491px">4.4</div><div class="yl" style="top:478px">4.6</div><div class="yl" style="top:466px">4.8</div><div class="yl" style="top:453px">5</div><div class="yl" style="top:441px">5.2</div><div class="yl" style="top:428px">5.4</div><div class="yl" style="top:416px">5.6</div><div class="yl" style="top:403px">5.8</div><div class="yl" style="top:391px">6</div><div class="yl" style="top:378px">6.2</div><div class="yl" style="top:366px">6.4</div><div class="yl" style="top:353px">6.6</div><div class="yl" style="top:341px">6.8</div><div class="yl" style="top:328px">7</div><div class="yl" style="top:316px">7.2</div><div class="yl" style="top:304px">7.4</div><div class="yl" style="top:291px">7.6</div><div class="yl" style="top:279px">7.8</div><div class="yl" style="top:266px">8</div><div class="yl" style="top:254px">8.2</div><div class="yl" style="top:241px">8.4</div><div class="yl" style="top:229px">8.6</div><div class="yl" style="top:216px">8.8</div><div class="yl" style="top:204px">9</div><div class="yl" style="top:191px">9.2</div><div class="yl" style="top:179px">9.4</div><div class="yl" style="top:166px">9.6</div><div class="yl" style="top:154px">9.8</div><div class="yl" style="top:141px">10</div><div class="yl" style="top:129px">10.2</div><div class="yl" style="top:116px">10.4</div><div class="yl" style="top:104px">10.6</div><div class="yl" style="top:91px">10.8</div>
<div class="xl" style="left:35px;width:14px">20</div>
<div class="xl" style="left:601px;width:14px">50</div>
<div class="xl" style="left:1034px;width:20px">100</div>
</body></html>
